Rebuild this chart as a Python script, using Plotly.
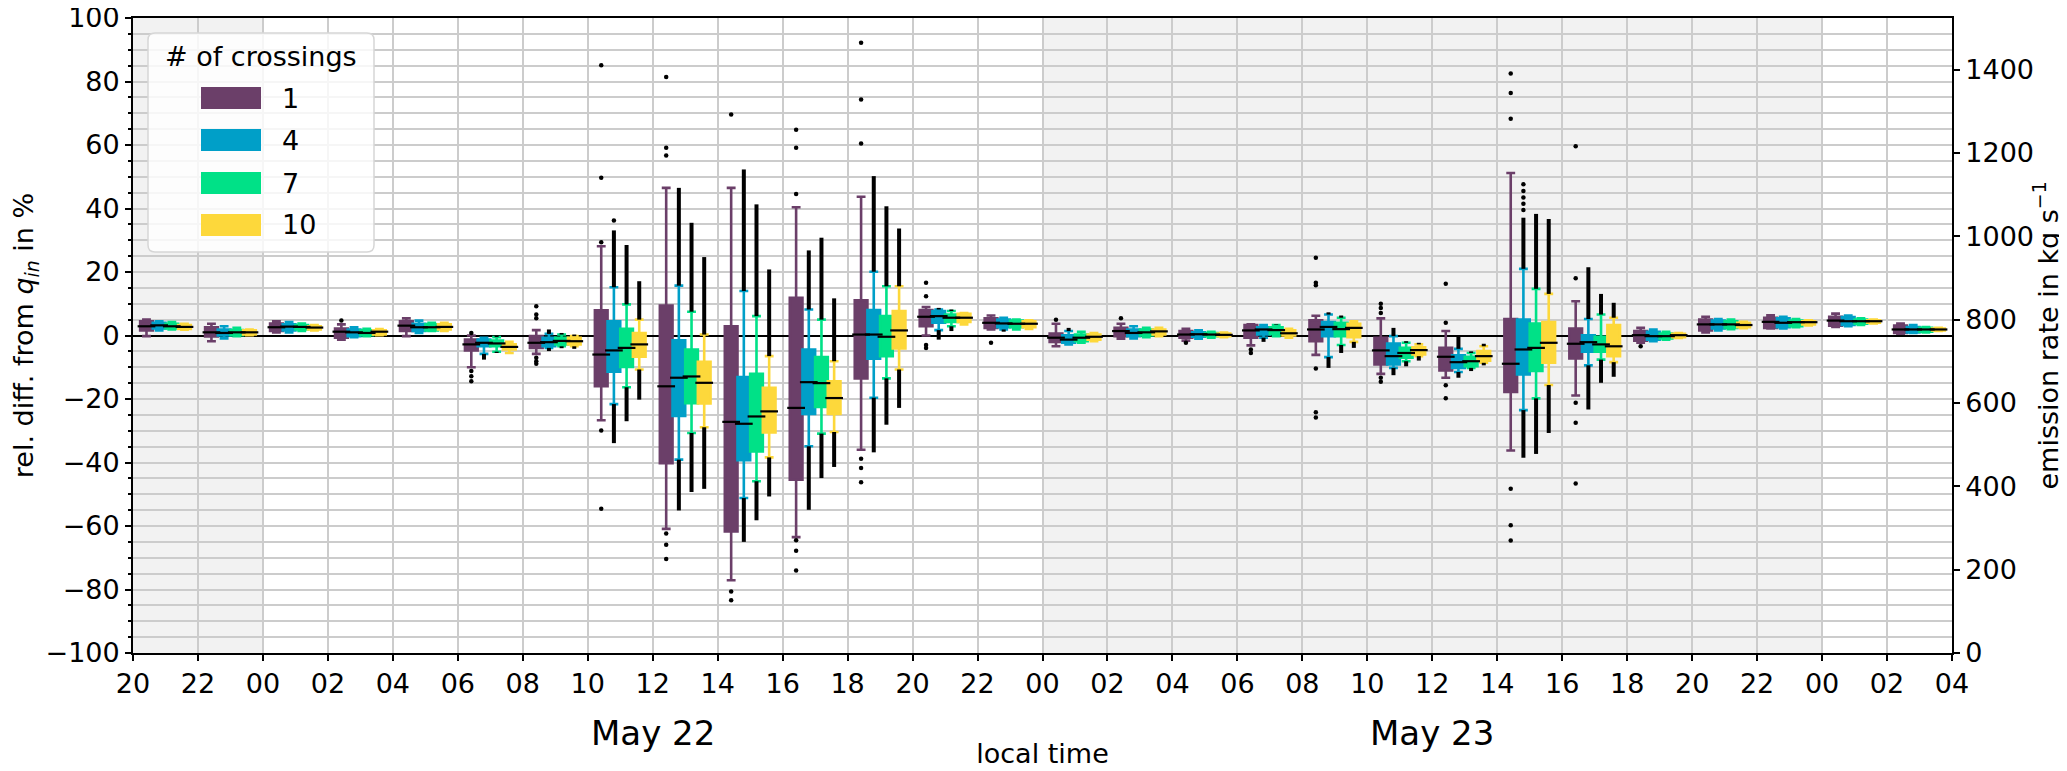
import plotly.graph_objects as go

# ---------------------------------------------------------------- data
SERIES_NAMES = ["1", "4", "7", "10"]
SERIES_COLORS = ["#6b3f69", "#009fc8", "#00e187", "#fdd83b"]

# bin centres, hours after May 21 20:00 local time (2-h bins)
BIN_HOURS = [1, 3, 5, 7, 9, 11, 13, 15, 17, 19, 21, 23, 25, 27,
             29, 31, 33, 35, 37, 39, 41, 43, 45, 47, 49, 51, 53, 55]
TICK_HOURS = [0, 2, 4, 6, 8, 10, 12, 14, 16, 18, 20, 22, 24, 26, 28,
              30, 32, 34, 36, 38, 40, 42, 44, 46, 48, 50, 52, 54, 56]
TICK_LABELS = ["20", "22", "00", "02", "04", "06", "08", "10", "12", "14",
               "16", "18", "20", "22", "00", "02", "04", "06", "08", "10",
               "12", "14", "16", "18", "20", "22", "00", "02", "04"]
DAY_LABELS = ["May 22", "May 23"]
DAY_LABEL_HOURS = [16, 40]
SHADE_START = [0, 28]
SHADE_END = [4, 52]
Q_IN = 762.0          # kg/s, reference emission rate (0 %)

# ---- series "1"
S1_Q1 = [1.6, -0.3, 1.4, -0.7, 1.4, -4.7, -3.9, -16.0, -40.2, -61.7, -45.4, -13.5, 2.9, 2.4,
         -2.0, -0.2, -0.7, -0.7, -1.8, -9.1, -11.0, -17.8, -7.2, -1.6, 1.6, 2.4, 3.1, 0.8]
S1_MED = [2.9, 1.0, 2.6, 1.2, 3.1, -2.8, -2.3, -6.0, -16.0, -27.2, -22.8, 0.3, 5.9, 4.0,
          -0.7, 1.4, 0.3, 1.6, 1.9, -4.7, -6.7, -8.9, -2.6, 0.1, 3.5, 4.3, 4.7, 1.9]
S1_Q3 = [4.5, 2.6, 3.8, 2.2, 4.5, -1.3, -0.2, 7.9, 9.4, 2.9, 11.9, 11.1, 8.0, 5.4,
         0.6, 2.4, 1.4, 3.3, 4.8, -0.7, -3.9, 5.2, 2.2, 1.4, 5.0, 5.6, 5.9, 3.1]
S1_LO = [-0.2, -1.8, 1.0, -1.3, -0.2, -10.0, -5.8, -26.7, -60.9, -77.1, -63.5, -36.0, 0.0, 1.9,
         -3.4, -1.0, -1.6, -3.1, -6.1, -12.1, -13.3, -36.2, -18.9, -2.3, 1.0, 2.2, 2.7, 0.6]
S1_HI = [5.0, 3.7, 4.5, 3.5, 5.4, 0.0, 1.7, 28.1, 46.5, 46.5, 40.4, 43.7, 9.0, 6.3,
         3.7, 3.7, 2.1, 3.5, 6.2, 5.4, 1.4, 51.2, 10.8, 2.4, 5.9, 6.4, 6.9, 3.8]
S1_DLO = [None] * 28
S1_DHI = [None] * 28
S1_OUT_BIN = [3, 5, 5, 5, 5, 6, 6, 6, 6, 6, 6, 7, 7, 7, 7, 7,
              8, 8, 8, 8, 8, 8, 9, 9, 9, 10, 10, 10, 10, 10, 10,
              11, 11, 11, 11, 11, 11, 12, 12, 12, 12, 13, 14, 15, 16, 17, 17,
              18, 18, 18, 18, 18, 18, 19, 19, 19, 19, 19, 20, 20, 20, 20,
              21, 21, 21, 21, 21, 21, 22, 22, 22, 22, 22, 23]
S1_OUT_VAL = [4.7, 0.8, -11.2, -12.8, -14.4, 9.2, 6.6, 5.4, -7.0, -8.1, -8.9, 29.4, 49.7, 85.1, -29.9, -54.6,
              81.4, 59.1, 56.7, -62.4, -65.9, -70.4, 69.6, -80.6, -83.4, 44.6, 59.1, 64.8, -64.5, -67.8, -74.0,
              60.5, 74.3, 92.2, -38.8, -41.7, -46.2, 12.4, 16.6, -3.0, -3.9, -2.3, 5.0, 5.4, -2.3, -4.4, -5.5,
              24.5, 16.6, 15.8, -10.4, -24.2, -25.8, 7.1, 8.7, 10.0, -13.3, -14.6, 4.0, 16.3, -15.7, -19.8,
              68.3, 76.4, 82.5, -48.3, -59.8, -64.6, 18.0, 59.6, -21.2, -27.5, -46.6, -3.4]

# ---- series "4"
S4_Q1 = [2.2, 0.0, 1.6, -0.2, 1.4, -3.4, -3.4, -11.4, -25.3, -39.3, -24.7, -7.3, 4.0, 2.6,
         -2.3, -0.2, -0.4, 0.3, -0.2, -9.1, -10.2, -12.3, -5.1, -1.3, 2.2, 2.6, 3.3, 1.0]
S4_MED = [3.2, 0.8, 2.8, 1.0, 2.6, -2.3, -2.1, -4.7, -13.3, -27.8, -14.7, 0.3, 6.1, 3.8,
          -1.3, 0.8, 0.4, 1.9, 2.7, -6.5, -8.4, -4.4, -2.1, -0.2, 3.5, 4.0, 4.5, 1.9]
S4_Q3 = [4.0, 1.9, 3.5, 1.9, 3.7, -1.3, -0.7, 4.5, -1.5, -13.1, -4.4, 8.0, 7.7, 5.0,
         0.1, 1.9, 1.0, 2.6, 4.2, -2.5, -6.2, 5.0, 0.1, 1.2, 4.7, 5.4, 5.8, 2.7]
S4_LO = [1.6, -0.9, 1.0, -0.5, 0.8, -5.8, -3.9, -21.6, -39.1, -51.2, -34.9, -19.6, 1.7, 1.9,
         -2.8, -0.9, -1.0, -0.7, -6.8, -10.2, -11.5, -23.5, -9.4, -1.8, 1.6, 2.2, 2.9, 0.8]
S4_HI = [4.5, 2.9, 4.2, 2.6, 4.7, -0.7, 0.5, 15.2, 15.7, 14.0, 8.2, 20.1, 8.2, 5.6,
         1.4, 2.9, 1.6, 3.3, 6.6, -0.2, -4.2, 21.0, 5.2, 1.9, 5.2, 5.9, 6.3, 3.3]
S4_DLO = [None, None, None, None, None, -7.6, -4.9, -33.9, -55.1, -65.0, -54.9, -36.8, -1.3, 1.2,
          None, None, None, -2.0, -10.2, -12.5, -13.3, -38.5, -23.3, None, None, None, None, None]
S4_DHI = [None, None, None, None, None, None, 1.9, 33.1, 46.5, 52.3, 26.8, 50.2, 8.7, None,
          2.4, None, None, None, 7.3, 2.4, -0.4, 37.1, 21.5, None, None, None, None, None]
S4_OUT_BIN = [7, 21, 21, 21, 21, 21]
S4_OUT_VAL = [36.2, 39.5, 41.5, 43.5, 45.5, 47.6]

# ---- series "7"
S7_Q1 = [2.2, 0.1, 1.9, 0.1, 1.6, -3.4, -2.8, -9.9, -21.3, -36.5, -22.5, -6.5, 4.3, 2.6,
         -1.8, 0.0, -0.2, 0.5, -0.2, -7.0, -9.7, -11.2, -5.1, -0.9, 2.4, 2.9, 3.7, 1.2]
S7_MED = [2.9, 1.0, 2.7, 0.8, 2.6, -2.5, -1.7, -3.9, -12.9, -25.5, -15.0, -0.4, 5.6, 3.7,
          -0.7, 1.0, 0.3, 1.7, 2.0, -5.5, -8.1, -3.9, -2.8, -0.2, 3.5, 4.2, 4.5, 1.9]
S7_Q3 = [3.7, 1.7, 3.3, 1.6, 3.5, -1.6, -0.7, 2.1, -4.4, -12.1, -6.8, 6.1, 6.6, 4.7,
         0.3, 1.9, 0.8, 2.6, 4.0, -3.9, -6.7, 3.8, -0.4, 0.6, 4.5, 4.7, 5.0, 2.4]
S7_LO = [1.9, -0.2, 1.4, -0.2, 1.4, -5.1, -3.4, -16.3, -30.7, -45.9, -30.9, -13.5, 2.9, 1.9,
         -2.3, -0.5, -0.7, -0.2, -3.0, -8.1, -10.2, -19.8, -7.6, -1.3, 2.0, 2.6, 3.3, 1.0]
S7_HI = [4.2, 2.4, 3.8, 2.1, 4.0, -0.5, 0.3, 9.8, 7.5, 6.1, 5.0, 15.5, 7.7, 5.0,
         1.2, 2.4, 1.2, 3.3, 5.6, -2.3, -5.5, 14.7, 6.6, 1.2, 5.0, 5.2, 5.4, 2.7]
S7_DLO = [None, None, None, None, None, -5.5, -4.0, -27.0, -49.3, -58.2, -44.9, -28.1, 1.4, None,
          None, None, None, None, -5.5, -9.7, -11.2, -37.3, -14.9, None, None, None, None, None]
S7_DHI = [None, None, None, None, None, 0.0, 0.8, 28.5, 35.5, 41.3, 30.8, 40.7, 8.2, None,
          None, None, None, 3.5, 6.3, -1.8, -5.0, 38.3, 13.1, None, None, None, None, None]
S7_OUT_BIN = []
S7_OUT_VAL = []

# ---- series "10"
S10_Q1 = [2.1, 0.3, 1.9, 0.3, 1.9, -4.4, -2.8, -6.7, -21.4, -30.5, -24.7, -4.1, 4.3, 2.6,
          -1.3, 0.3, -0.2, 0.0, -0.5, -6.0, -7.9, -8.6, -6.5, -0.5, 2.6, 3.5, 4.0, 1.6]
S10_MED = [2.7, 1.0, 2.5, 1.2, 2.7, -3.6, -1.8, -2.8, -14.9, -23.9, -19.7, 1.6, 5.6, 3.7,
           -0.4, 1.3, 0.2, 0.7, 2.4, -4.6, -6.5, -2.3, -3.4, 0.1, 3.3, 4.2, 4.5, 1.9]
S10_Q3 = [3.3, 1.6, 2.9, 1.6, 3.5, -2.8, -0.7, 0.8, -8.3, -16.5, -14.4, 7.7, 6.8, 4.5,
          0.3, 1.9, 0.6, 1.6, 3.7, -3.7, -4.9, 4.2, 3.3, 0.5, 4.0, 4.5, 4.8, 2.2]
S10_LO = [1.8, 0.1, 1.6, 0.1, 1.4, -5.5, -3.4, -10.7, -28.9, -38.4, -30.4, -10.7, 3.5, 2.1,
          -1.8, -0.2, -0.5, -0.7, -2.0, -6.5, -8.6, -15.6, -8.4, -0.8, 2.3, 3.2, 3.8, 1.4]
S10_HI = [3.7, 1.9, 3.3, 2.0, 4.0, -2.0, -0.2, 5.0, 0.3, -6.5, -8.1, 15.5, 7.1, 4.8,
          0.8, 2.4, 0.9, 2.1, 4.5, -2.8, -3.4, 13.1, 5.6, 0.8, 4.3, 4.8, 5.0, 2.4]
S10_DLO = [None, None, None, None, None, None, -4.2, -20.2, -48.3, -50.7, -41.4, -22.8, None, None,
           None, None, None, None, -3.9, -7.9, -9.4, -30.7, -13.0, None, None, None, None, None]
S10_DHI = [None, None, None, None, None, None, 0.3, 17.1, 24.7, 20.8, 11.7, 33.7, None, None,
           None, None, None, None, None, -2.3, -2.6, 36.7, 10.3, None, None, None, None, None]
S10_OUT_BIN = []
S10_OUT_VAL = []

SERIES = [
    (S1_Q1, S1_MED, S1_Q3, S1_LO, S1_HI, S1_DLO, S1_DHI, S1_OUT_BIN, S1_OUT_VAL),
    (S4_Q1, S4_MED, S4_Q3, S4_LO, S4_HI, S4_DLO, S4_DHI, S4_OUT_BIN, S4_OUT_VAL),
    (S7_Q1, S7_MED, S7_Q3, S7_LO, S7_HI, S7_DLO, S7_DHI, S7_OUT_BIN, S7_OUT_VAL),
    (S10_Q1, S10_MED, S10_Q3, S10_LO, S10_HI, S10_DLO, S10_DHI, S10_OUT_BIN, S10_OUT_VAL),
]

# ---------------------------------------------------------------- geometry / style
W, H = 2067, 771
PL, PR, PT, PB = 125, 1944, 10, 645
X_MIN, X_MAX = TICK_HOURS[0], TICK_HOURS[-1]
PX_PER_HOUR = (PR - PL) / (X_MAX - X_MIN)
BOX_W = 0.39                      # hours
FONT = "DejaVu Sans"
GRID = "#cccccc"


def paper_x(p):
    return (p - PL) / (PR - PL)


def paper_y(p):
    return (PB - p) / (PB - PT)


fig = go.Figure()

n = len(SERIES)
for k, (name, color, data) in enumerate(zip(SERIES_NAMES, SERIES_COLORS, SERIES)):
    q1, med, q3, lo, hi, dlo, dhi, ob, ov = data
    off = (k - (n - 1) / 2) * BOX_W
    xs = [h + off for h in BIN_HOURS]
    fig.add_trace(go.Box(
        x=xs, q1=q1, median=med, q3=q3, lowerfence=lo, upperfence=hi,
        width=BOX_W, fillcolor=color, line=dict(color=color, width=2.6),
        whiskerwidth=0.7, boxpoints=False, name=name, showlegend=False,
        hoverinfo="skip",
    ))
    # dense runs of outliers (drawn as continuous black strokes)
    lx, ly = [], []
    for x, l, dl, h_, dh in zip(xs, lo, dlo, hi, dhi):
        if dl is not None:
            lx += [x, x, None]
            ly += [l, dl, None]
        if dh is not None:
            lx += [x, x, None]
            ly += [h_, dh, None]
    if lx:
        fig.add_trace(go.Scatter(x=lx, y=ly, mode="lines",
                                 line=dict(color="black", width=4),
                                 showlegend=False, hoverinfo="skip"))
    # sparse outliers
    if ob:
        fig.add_trace(go.Scatter(x=[BIN_HOURS[b] + off for b in ob], y=ov, mode="markers",
                                 marker=dict(color="black", size=4.5),
                                 showlegend=False, hoverinfo="skip"))
    # medians (black bars across the box)
    fig.add_trace(go.Scatter(x=xs, y=med, mode="markers",
                             marker=dict(symbol="line-ew", size=BOX_W * PX_PER_HOUR,
                                         line=dict(color="black", width=2.2)),
                             showlegend=False, hoverinfo="skip"))

# the emission-rate axis (same scale: 0 % <-> Q_IN)
fig.add_trace(go.Scatter(x=[X_MIN], y=[Q_IN], yaxis="y2", mode="none",
                         showlegend=False, hoverinfo="skip"))

shapes = []
for s, e in zip(SHADE_START, SHADE_END):
    shapes.append(dict(type="rect", xref="x", yref="paper", x0=s, x1=e, y0=0, y1=1,
                       fillcolor="#f2f2f2", line=dict(width=0), layer="below"))

# manual legend (matplotlib style)
lx0, lx1, ly0, ly1, r = 140, 366, 25, 244, 7


def P(x, y):
    return f"{paper_x(x):.5f},{paper_y(y):.5f}"


path = (f"M {P(lx0 + r, ly0)} L {P(lx1 - r, ly0)} Q {P(lx1, ly0)} {P(lx1, ly0 + r)} "
        f"L {P(lx1, ly1 - r)} Q {P(lx1, ly1)} {P(lx1 - r, ly1)} "
        f"L {P(lx0 + r, ly1)} Q {P(lx0, ly1)} {P(lx0, ly1 - r)} "
        f"L {P(lx0, ly0 + r)} Q {P(lx0, ly0)} {P(lx0 + r, ly0)} Z")
shapes.append(dict(type="path", xref="paper", yref="paper", path=path,
                   fillcolor="rgba(255,255,255,0.82)", line=dict(color="#d6d6d6", width=1.5),
                   layer="above"))
annotations = [dict(text="# of crossings", xref="paper", yref="paper",
                    x=paper_x(253), y=paper_y(48), xanchor="center", yanchor="middle",
                    showarrow=False, font=dict(family=FONT, size=27, color="black"))]
row_y = [90, 132, 175, 217]
for name, color, yc in zip(SERIES_NAMES, SERIES_COLORS, row_y):
    shapes.append(dict(type="rect", xref="paper", yref="paper",
                       x0=paper_x(193), x1=paper_x(253), y0=paper_y(yc + 11), y1=paper_y(yc - 11),
                       fillcolor=color, line=dict(width=0), layer="above"))
    annotations.append(dict(text=name, xref="paper", yref="paper", x=paper_x(272), y=paper_y(yc),
                            xanchor="left", yanchor="middle", showarrow=False,
                            font=dict(family=FONT, size=27, color="black")))

for lab, h in zip(DAY_LABELS, DAY_LABEL_HOURS):
    annotations.append(dict(text=lab, xref="x", yref="paper", x=h, y=paper_y(725),
                            xanchor="center", yanchor="middle", showarrow=False,
                            font=dict(family=FONT, size=34, color="black")))

# right-hand axis title (placed explicitly so it is not squeezed by the margin)
annotations.append(dict(text="emission rate in kg s<sup>−1</sup>", xref="paper", yref="paper",
                        x=paper_x(2038), y=0.5, textangle=-90, xanchor="center", yanchor="middle",
                        showarrow=False, font=dict(family=FONT, size=27, color="black")))

fig.update_layout(
    width=W, height=H,
    margin=dict(l=PL, r=W - PR, t=PT, b=H - PB, autoexpand=False),
    paper_bgcolor="white", plot_bgcolor="white",
    font=dict(family=FONT, size=27, color="black"),
    boxmode="overlay", showlegend=False,
    shapes=shapes, annotations=annotations,
    xaxis=dict(range=[X_MIN, X_MAX], tickvals=TICK_HOURS, ticktext=TICK_LABELS,
               showgrid=True, gridcolor=GRID, gridwidth=2,
               ticks="outside", ticklen=6, tickwidth=1.8, tickcolor="black",
               showline=True, linecolor="black", linewidth=1.8, mirror=True,
               zeroline=False, automargin=False, ticklabeloverflow="allow",
               tickfont=dict(family=FONT, size=27),
               title=dict(text="local time", font=dict(family=FONT, size=27), standoff=46)),
    yaxis=dict(range=[-100, 100], dtick=20, tick0=0,
               showgrid=True, gridcolor=GRID, gridwidth=2,
               minor=dict(dtick=5, tick0=0, showgrid=True, gridcolor=GRID, gridwidth=2,
                          ticks="outside", ticklen=3, tickcolor="black", tickwidth=1.5),
               ticks="outside", ticklen=6, tickwidth=1.8, tickcolor="black",
               showline=True, linecolor="black", linewidth=1.8,
               zeroline=True, zerolinecolor="black", zerolinewidth=2,
               automargin=False, ticklabeloverflow="allow",
               tickfont=dict(family=FONT, size=27),
               title=dict(text="rel. diff. from <i>q</i><sub><i>in</i></sub> in %",
                          font=dict(family=FONT, size=27), standoff=10)),
    yaxis2=dict(range=[0, 2 * Q_IN], dtick=200, tick0=0, overlaying="y", side="right",
                showgrid=False, zeroline=False,
                ticks="outside", ticklen=6, tickwidth=1.8, tickcolor="black",
                showline=True, linecolor="black", linewidth=1.8,
                automargin=False, ticklabeloverflow="allow",
                tickfont=dict(family=FONT, size=27)),
)

fig.write_html("out.html")
